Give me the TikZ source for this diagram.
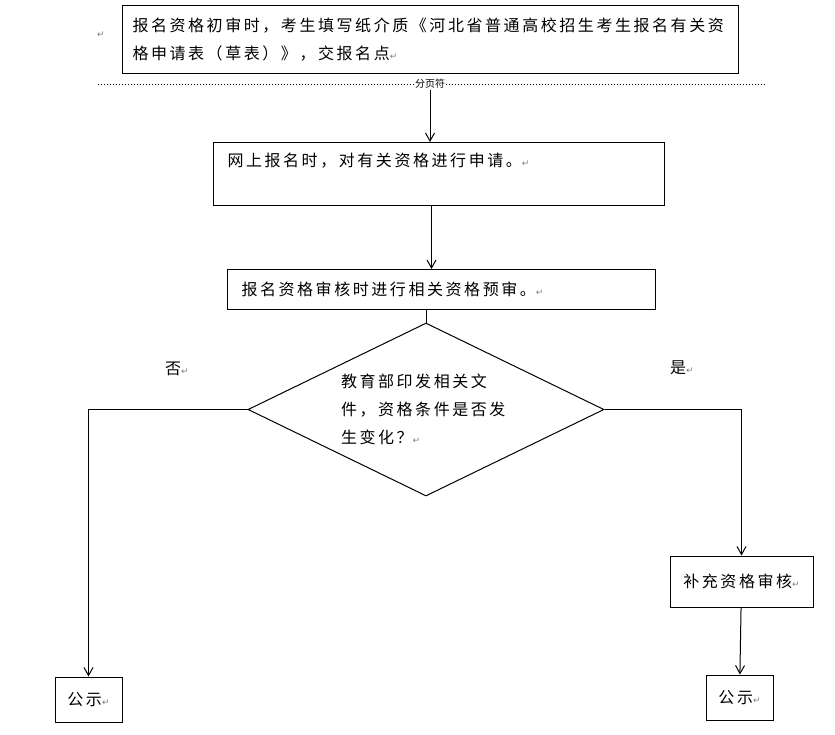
\documentclass[tikz,border=0pt]{standalone}
\usepackage{fontspec}
\usepackage{tikz}
\usetikzlibrary{shapes.geometric, arrows.meta}
\setmainfont{Noto Sans CJK SC}[LetterSpace=16]
\newfontfamily\plaincjk{Noto Sans CJK SC}
\newfontfamily\markfont{DejaVu Sans}
\newcommand{\pmark}{{\markfont\fontsize{9}{9}\selectfont\textcolor{gray}{\symbol{"21B5}}}}

\begin{document}
\begin{tikzpicture}[
    x=1pt, y=-1pt,
    line width=1pt,
    font=\fontsize{16}{28}\selectfont,
    box/.style={draw, rectangle, align=left},
    decision/.style={draw, diamond, inner sep=0pt, aspect=2.06,
        minimum width=356, minimum height=173, text width=170pt, align=left},
    flow/.style={-{Straight Barb[length=8pt, width=9pt]}}
]

    \useasboundingbox (0,0) rectangle (835,734);

    % ==========================================
    % PAPER APPLICATION + PAGE BREAK
    % ==========================================
    \node[box, anchor=north west, minimum width=616, minimum height=68,
        text width=596pt, inner xsep=10pt] (paper) at (122,5)
        {报名资格初审时，考生填写纸介质《河北省普通高校招生考生报名有关资\\格申请表（草表）》，交报名点\pmark};
    \node (edge) at (101,35) {\pmark};

    \draw[dotted] (98,84) -- (765,84);
    \node[fill=white, inner sep=1pt, font=\plaincjk\fontsize{10}{10}\selectfont] (brk) at (430,84) {分页符};


    % ==========================================
    % ONLINE APPLICATION AND PRE-CHECK
    % ==========================================
    \node[box, anchor=north west, minimum width=451, minimum height=63,
        text width=423pt, inner xsep=14pt] (online) at (213,142)
        {网上报名时，对有关资格进行申请。\pmark\\\mbox{}};

    \node[box, anchor=north west, minimum width=428, minimum height=40,
        text width=400pt, inner xsep=14pt] (check) at (227,269)
        {报名资格审核时进行相关资格预审。\pmark};

    \node[decision] (cond) at (426,409.5)
        {教育部印发相关文\\件，资格条件是否发\\生变化？\pmark};

    \node (no)  at (177,369) {否\pmark};
    \node (yes) at (682,368) {是\pmark};


    % ==========================================
    % OUTCOMES
    % ==========================================
    \node[box, minimum width=143, minimum height=51] (extra) at (741.5,581.5) {补充资格审核\pmark};
    \node[box, minimum width=67, minimum height=45] (pubL) at (88.5,699.5) {公示\pmark};
    \node[box, minimum width=67, minimum height=45] (pubR) at (739.5,697.5) {公示\pmark};


    % ==========================================
    % CONNECTORS
    % ==========================================
    \draw[flow] (brk) -- (brk |- online.north);
    \draw[flow] ([xshift=-7.5pt]online.south) -- ([xshift=-10pt]check.north);
    \draw (check.south -| cond.north) -- (cond.north);

    \draw[flow] (cond.west) -| (pubL.north);
    \draw[flow] (cond.east) -| (extra.north);
    \draw[flow] (extra) -- (pubR);

\end{tikzpicture}
\end{document}
